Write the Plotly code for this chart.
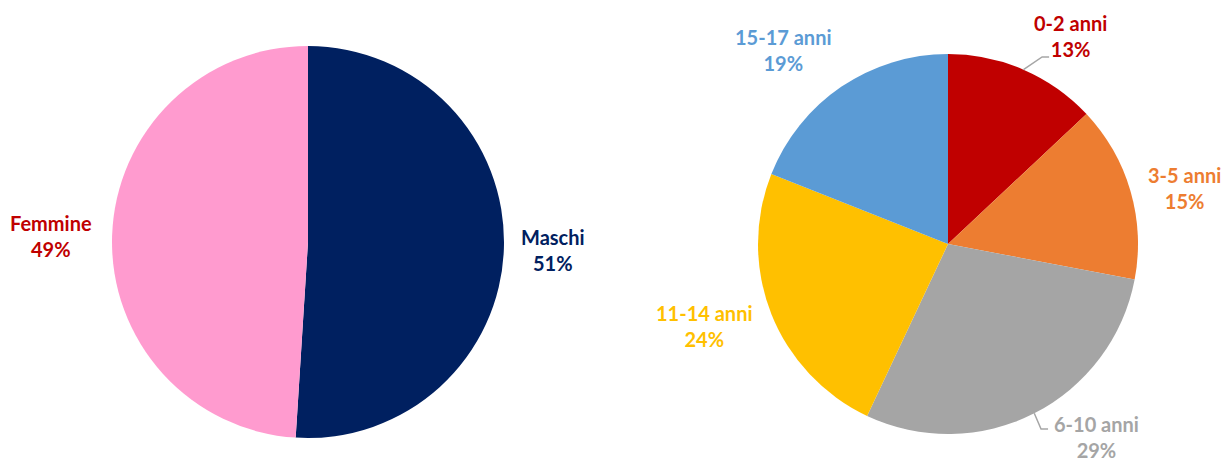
import math
import plotly.graph_objects as go

# ---------------- data ----------------
sex_labels = ["Maschi", "Femmine"]
sex_values = [51, 49]
age_labels = ["0-2 anni", "3-5 anni", "6-10 anni", "11-14 anni", "15-17 anni"]
age_values = [13, 15, 29, 24, 19]

# ---------------- style ----------------
W, H = 1223, 462
sex_colors = ["#002060", "#FF9BCF"]
sex_text_colors = ["#002060", "#C00000"]
age_colors = ["#C00000", "#ED7D31", "#A5A5A5", "#FFC000", "#5B9BD5"]
age_text_colors = ["#C00000", "#ED7D31", "#A5A5A5", "#FFC000", "#5B9BD5"]
FONT = "Lato"
FS = 20

# pie geometry in pixels (center x, center y from top, radius)
left_geo = (308, 242, 196)
right_geo = (948, 244, 190)
# label placement: angular nudge (deg) and distance (x radius)
sex_lbl_dtheta = [0, -0.5]
sex_lbl_dist = [1.25, 1.31]
age_lbl_dtheta = [7, 3, -10.5, 3, -6]
age_lbl_dist = [1.27, 1.28, 1.28, 1.35, 1.34]
# connectors: slice index -> end point offset from label centre (px)
age_connectors = {0: (-21, 21), 2: (-48, -8)}


def domain(geo):
    cx, cy, r = geo
    return dict(x=[(cx - r) / W, (cx + r) / W], y=[1 - (cy + r) / H, 1 - (cy - r) / H])


def mid_angles(values):
    tot = sum(values)
    out, acc = [], 0
    for v in values:
        out.append((acc + v / 2) / tot * 360)
        acc += v
    return out


def polar(geo, theta, dist):
    cx, cy, r = geo
    t = math.radians(theta)
    return cx + dist * r * math.sin(t), cy - dist * r * math.cos(t)


fig = go.Figure()
fig.add_trace(go.Pie(
    labels=sex_labels, values=sex_values, sort=False, direction="clockwise", rotation=0,
    marker=dict(colors=sex_colors, line=dict(color="white", width=0)),
    textinfo="none", hoverinfo="label+percent", domain=domain(left_geo), showlegend=False,
))
fig.add_trace(go.Pie(
    labels=age_labels, values=age_values, sort=False, direction="clockwise", rotation=0,
    marker=dict(colors=age_colors, line=dict(color="white", width=0)),
    textinfo="none", hoverinfo="label+percent", domain=domain(right_geo), showlegend=False,
))

annotations = []
shapes = []


def add_labels(geo, labels, values, colors, dth, dist, connectors=None):
    tot = sum(values)
    mids = mid_angles(values)
    for i, (lab, v) in enumerate(zip(labels, values)):
        px, py = polar(geo, mids[i] + dth[i], dist[i])
        pct = round(v / tot * 100)
        annotations.append(dict(
            x=px / W, y=1 - py / H, xref="paper", yref="paper", showarrow=False,
            xanchor="center", yanchor="middle",
            text=f"{lab}<br>{pct}%", align="center",
            font=dict(family=FONT, size=FS, color=colors[i], weight="bold"),
        ))
        if connectors and i in connectors:
            sx, sy = polar(geo, mids[i], 1.0)
            ox, oy = connectors[i]
            ex, ey = px + ox, py + oy
            bx = ex - 7
            path = f"M {sx/W} {1-sy/H} L {bx/W} {1-ey/H} L {ex/W} {1-ey/H}"
            shapes.append(dict(type="path", path=path, xref="paper", yref="paper",
                               line=dict(color="#A6A6A6", width=1.5)))


add_labels(left_geo, sex_labels, sex_values, sex_text_colors, sex_lbl_dtheta, sex_lbl_dist)
add_labels(right_geo, age_labels, age_values, age_text_colors, age_lbl_dtheta, age_lbl_dist,
           age_connectors)

fig.update_layout(
    width=W, height=H, margin=dict(l=0, r=0, t=0, b=0),
    paper_bgcolor="white", plot_bgcolor="white",
    annotations=annotations, shapes=shapes,
)
fig.write_html(
    "out.html",
    config={"displayModeBar": False},
    post_script="document.body.style.margin='0';document.body.style.overflow='hidden';",
)
